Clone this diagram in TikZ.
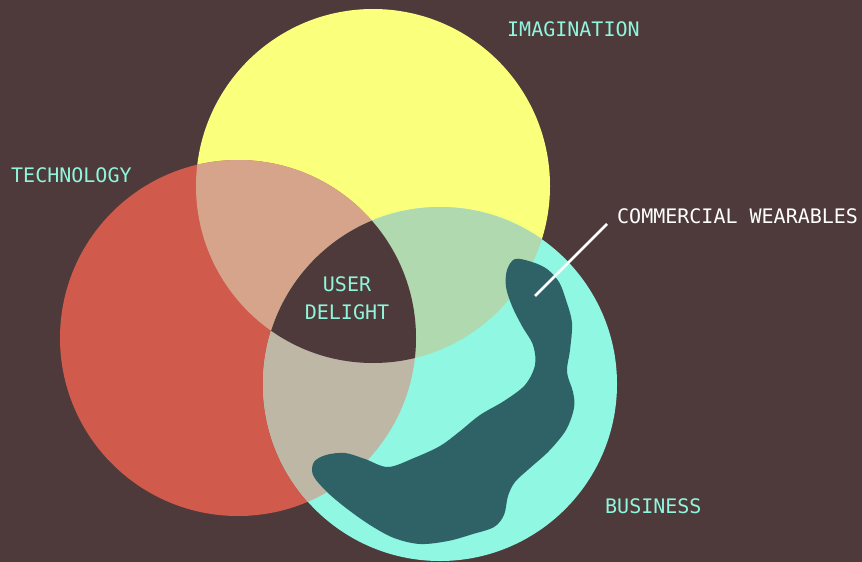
\documentclass[tikz,border=0pt]{standalone}
\usepackage{fontspec}
\newfontfamily\lblfont{DejaVu Sans Mono}
\definecolor{bg}{HTML}{4E3A3A}
\definecolor{cyell}{HTML}{FAFF7C}
\definecolor{cred}{HTML}{D05A4B}
\definecolor{ccyan}{HTML}{8FF7E2}
\definecolor{ctan}{HTML}{D5A48B}
\definecolor{cgreen}{HTML}{B1D9B0}
\definecolor{cbeige}{HTML}{BEB7A6}
\definecolor{cblob}{HTML}{2E6267}
\definecolor{ctext}{HTML}{8FF5DC}
\tikzset{
  lbl/.style={inner sep=0pt, text=ctext, font=\lblfont\fontsize{20}{24}\selectfont},
  lblw/.style={lbl, text=white},
  pointer/.style={draw=white, line width=2.5pt}
}
\begin{document}
\begin{tikzpicture}[x=1pt,y=-1pt]
\fill[bg] (0,0) rectangle (862,562);
\useasboundingbox (0,0) rectangle (862,562);
\def\Ycirc{(373,186) circle[radius=177pt]}
\def\Rcirc{(238,338) circle[radius=178pt]}
\def\Ccirc{(440,384) circle[radius=177pt]}
\fill[cyell] \Ycirc;
\fill[cred] \Rcirc;
\fill[ccyan] \Ccirc;
\begin{scope}\clip \Ycirc; \fill[ctan] \Rcirc; \end{scope}
\begin{scope}\clip \Ycirc; \fill[cgreen] \Ccirc; \end{scope}
\begin{scope}\clip \Rcirc; \fill[cbeige] \Ccirc; \end{scope}
\begin{scope}\clip \Ycirc; \clip \Rcirc; \fill[bg] \Ccirc; \end{scope}
% blob
\fill[cblob] plot[smooth cycle, tension=0.55] coordinates {
 (515,259) (532,262) (547,269) (559,282) (566,300) (572,323) (570,350) (567,372)
 (573,392) (574,408) (566,430) (549,451) (530,468) (515,482) (508,496) (504,515)
 (494,527) (473,534) (448,541) (420,544) (394,538) (370,525) (346,508) (326,491)
 (313,475) (314,462) (326,455) (345,453) (365,459) (388,467) (414,458) (440,446)
 (459,432) (480,415) (504,401) (525,385) (535,365) (533,345) (522,326) (512,306)
 (506,287) (507,270)};
% labels
\node[lbl, anchor=base west] (tech) at (11,182) {TECHNOLOGY};
\node[lbl, anchor=base west] (imag) at (507,36) {IMAGINATION};
\node[lbl, anchor=base west] (bus) at (605,513) {BUSINESS};
\node[lbl, anchor=base] (ud1) at (347,291) {USER};
\node[lbl, anchor=base] (ud2) at (347,319) {DELIGHT};
\node[lblw, anchor=base west] (cw) at (617,223) {COMMERCIAL WEARABLES};
\coordinate (cwA) at (535,296);
\coordinate (cwB) at (607,224);
\draw[pointer] (cwA) -- (cwB);
\end{tikzpicture}
\end{document}
